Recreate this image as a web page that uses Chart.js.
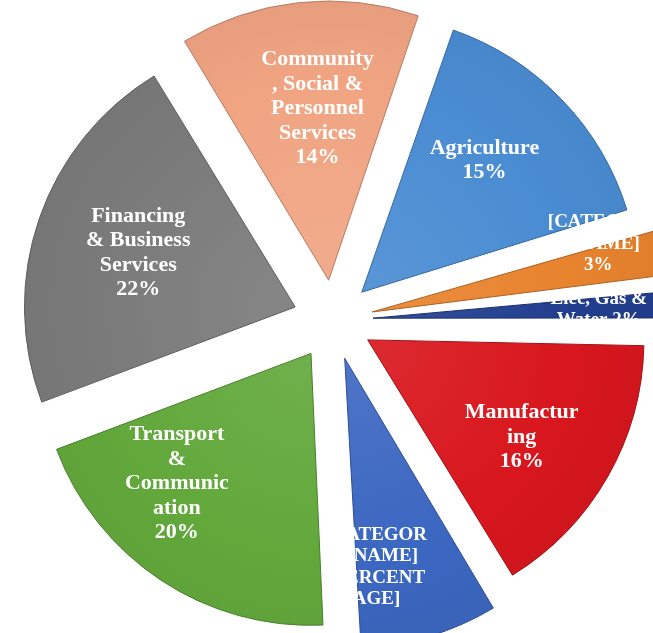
<!DOCTYPE html>
<html lang="en">
<head>
    <meta charset="UTF-8">
    <title>Share by Sector</title>
    <script src="https://cdn.jsdelivr.net/npm/chart.js"></script>
    <style>
        body { margin: 0; background: #fff; }
        #wrap { width: 653px; height: 633px; }
    </style>
</head>
<body>
    <div id="wrap"><canvas id="sectorChart"></canvas></div>

    <script>
        // sectors, clockwise from the top
        const categories = [
            'Community, Social & Personnel Services',
            'Agriculture',
            '[CATEGORY NAME]',
            'Elec, Gas & Water',
            'Manufacturing',
            '[CATEGORY NAME]',
            'Transport & Communication',
            'Financing & Business Services'
        ];
        const shares = [14, 15, 3, 2, 16, 8, 20, 22];
        const colors = ['#F0A482', '#4A8CD2', '#E8832E', '#213E8E', '#D8161D', '#3C67C1', '#62A83B', '#7A7A7A'];

        // label text as it is wrapped on the slices
        const labelLines = [
            ['Community', ', Social &', 'Personnel', 'Services', shares[0] + '%'],
            ['Agriculture', shares[1] + '%'],
            ['[CATEGOR', 'Y NAME]', shares[2] + '%'],
            ['Elec, Gas &', 'Water ' + shares[3] + '%'],
            ['Manufactur', 'ing', shares[4] + '%'],
            ['[CATEGOR', 'Y NAME]', '[PERCENT', 'AGE]'],
            ['Transport', '&', 'Communic', 'ation', shares[6] + '%'],
            ['Financing', '& Business', 'Services', shares[7] + '%']
        ];

        // where each label sits: distance from centre (px), turn from mid angle (deg), small font?
        const labelSpots = [[212, 2, 0], [220, -2.5, 0], [276, -4.4, 1], [266, 0.4, 1], [222, 2, 0], [251, 7, 1], [226, 10.3, 0], [206, 0, 0]];

        function shade(hex, amt) {
            const n = parseInt(hex.slice(1), 16);
            let r = (n >> 16) & 255, g = (n >> 8) & 255, b = n & 255;
            const f = c => Math.max(0, Math.min(255, Math.round(amt > 0 ? c + (255 - c) * amt : c * (1 + amt))));
            return 'rgb(' + f(r) + ',' + f(g) + ',' + f(b) + ')';
        }

        function sliceFill(context) {
            const base = colors[context.dataIndex];
            const chart = context.chart;
            const area = chart.chartArea;
            if (!area) return base;
            const cx = (area.left + area.right) / 2;
            const cy = (area.top + area.bottom) / 2;
            const g = chart.ctx.createRadialGradient(cx, cy, 20, cx, cy, 320);
            g.addColorStop(0, shade(base, 0.08));
            g.addColorStop(0.6, base);
            g.addColorStop(0.9, shade(base, -0.04));
            g.addColorStop(1, shade(base, -0.2));
            return g;
        }

        // white serif labels over the slices (white on white where they spill over)
        const sliceLabels = {
            id: 'sliceLabels',
            afterDatasetsDraw(chart) {
                const ctx = chart.ctx;
                const arcs = chart.getDatasetMeta(0).data;
                arcs.forEach((arc, i) => {
                    const p = arc.getProps(['x', 'y', 'startAngle', 'endAngle']);
                    const mid = (p.startAngle + p.endAngle) / 2;
                    const [dist, turn, small] = labelSpots[i];
                    const a = mid + turn * Math.PI / 180;
                    const lx = p.x + Math.cos(a) * dist;
                    const ly = p.y + Math.sin(a) * dist;
                    const size = small ? 19 : 22;
                    const lh = small ? 21.5 : 24.5;
                    const lines = labelLines[i];

                    ctx.save();
                    ctx.font = 'bold ' + size + 'px "Liberation Serif", "Times New Roman", serif';
                    ctx.fillStyle = '#fff';
                    ctx.textAlign = 'center';
                    ctx.textBaseline = 'middle';
                    lines.forEach((t, k) => {
                        ctx.fillText(t, lx, ly + (k - (lines.length - 1) / 2) * lh);
                    });
                    ctx.restore();
                });
            }
        };

        new Chart(document.getElementById('sectorChart'), {
            type: 'pie',
            data: {
                labels: categories,
                datasets: [{
                    data: shares,
                    backgroundColor: sliceFill,
                    borderColor: colors.map(c => shade(c, -0.25)),
                    borderWidth: 1,
                    offset: 160,
                    hoverOffset: 0,
                    clip: false
                }]
            },
            options: {
                responsive: true,
                maintainAspectRatio: false,
                animation: false,
                rotation: -31.4,
                radius: 270,
                layout: { padding: { left: 13, right: 0, top: 7, bottom: 0 } },
                plugins: {
                    legend: { display: false },
                    tooltip: { enabled: false }
                }
            },
            plugins: [sliceLabels]
        });
    </script>
</body>
</html>
